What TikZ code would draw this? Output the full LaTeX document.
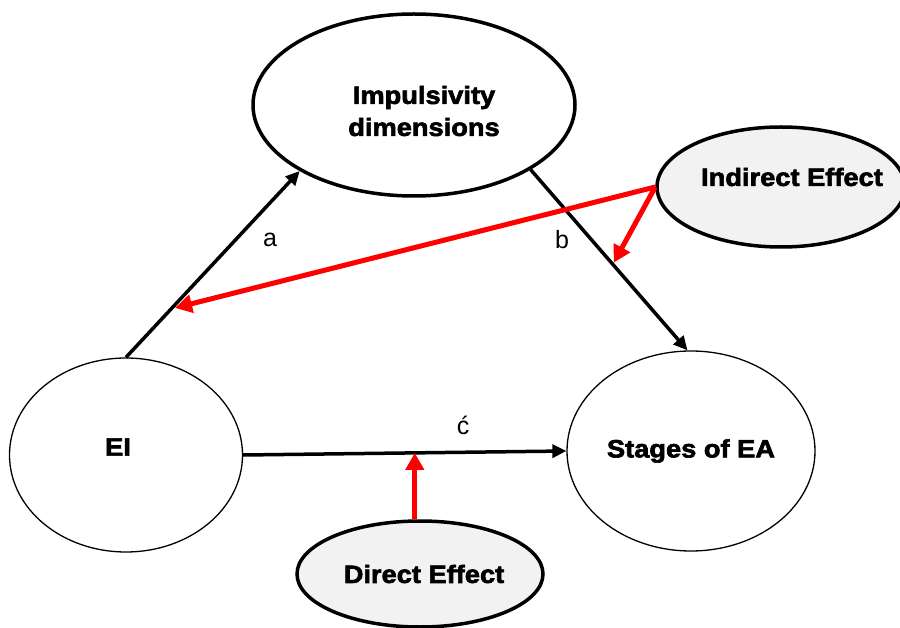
\documentclass[tikz,border=0pt]{standalone}
\usepackage{fontspec}
\setmainfont{Liberation Sans}
\newfontfamily\boxfont{Liberation Sans Bold}[FakeStretch=1.09,FakeBold=2.5]
\usetikzlibrary{arrows.meta,shapes.geometric}

\definecolor{effgray}{HTML}{F2F2F2}

\tikzset{
  var/.style={ellipse,draw,line width=1.3pt,fill=white,inner sep=0pt},
  medvar/.style={var,line width=3.5pt},
  effect/.style={medvar,fill=effgray},
  txt/.style={font=\boxfont\fontsize{25}{32}\selectfont,align=center,inner sep=0pt},
  link/.style={line width=3.5pt,-{Triangle[length=14pt,width=13pt]}},
  redlink/.style={red,line width=5pt,-{Triangle[length=17pt,width=18pt]}},
  lbl/.style={font=\fontsize{25}{30}\selectfont,inner sep=0pt},
}

\begin{document}
\begin{tikzpicture}[x=1pt,y=-1pt]
  \useasboundingbox (0,0) rectangle (900,628);

  % variables
  \node[medvar,minimum width=322,minimum height=182,
    label={[txt,xshift=10pt,yshift=-6pt]center:Impulsivity\\dimensions}] (imp) at (414,105) {};
  \node[var,minimum width=233,minimum height=194,
    label={[txt,xshift=-8pt,yshift=8pt]center:EI}] (ei) at (126,455) {};
  \node[var,minimum width=248,minimum height=200,
    label={[txt]center:Stages of EA}] (sea) at (691,451) {};
  \node[effect,minimum width=248,minimum height=120,
    label={[txt,xshift=11pt,yshift=10pt]center:Indirect Effect}] (ind) at (781,187) {};
  \node[effect,minimum width=246,minimum height=106,
    label={[txt,xshift=4pt]center:Direct Effect}] (dir) at (420,574) {};

  % paths a, b and c'
  \draw[link] (ei.north) -- coordinate[pos=.26] (ona) (imp.210);
  \draw[link] (imp.331) -- coordinate[pos=.524] (onb) (sea.92);
  \draw[link] (ei.east) -- coordinate[pos=.531] (onc) (sea.west);

  \node[lbl] (la) at (270,240) {a};
  \node[lbl] (lb) at (562,240) {b};
  \node[lbl] (lc) at (463,425) {ć};

  % effects
  \draw[redlink,shorten >=4pt] (ind.west) -- (ona);
  \draw[redlink,shorten >=2pt] (ind.west) -- (onb);
  \draw[redlink] (dir.north -| onc) -- (onc);
\end{tikzpicture}
\end{document}
